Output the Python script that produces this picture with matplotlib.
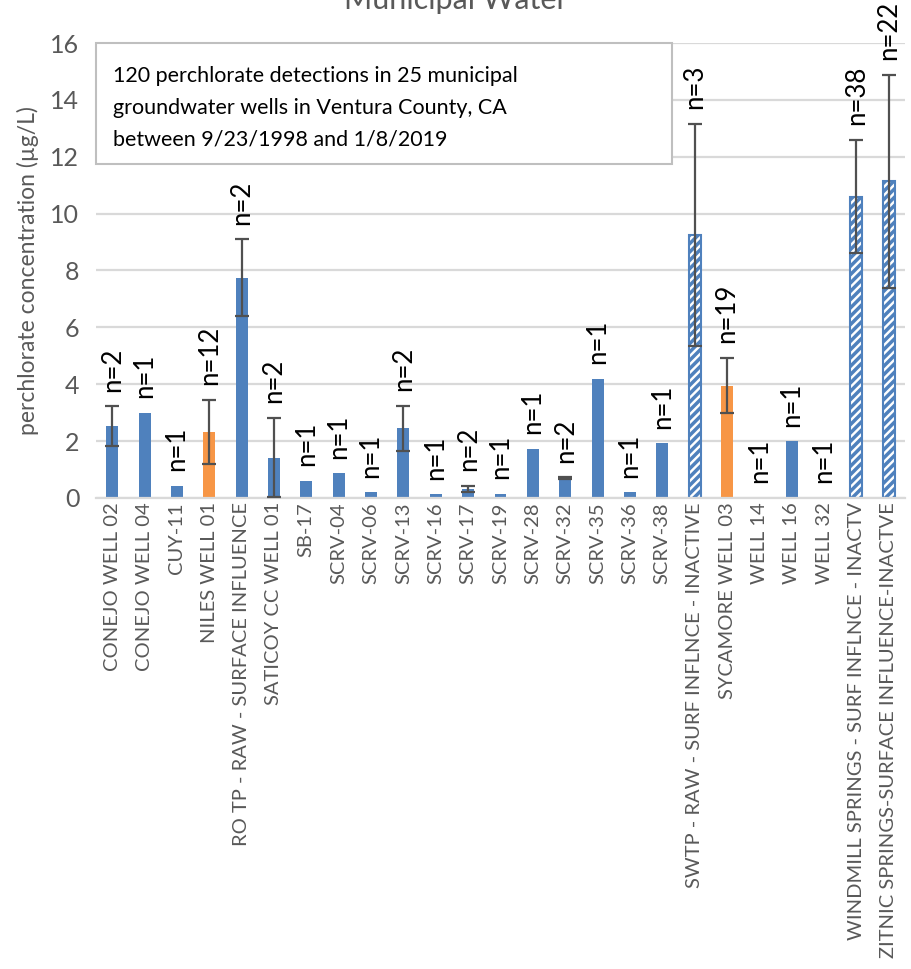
import numpy as np
import matplotlib
matplotlib.use("Agg")
import matplotlib.pyplot as plt
from matplotlib.patches import Rectangle

plt.rcParams['font.family'] = ['Lato', 'DejaVu Sans']
plt.rcParams['hatch.linewidth'] = 2.5

# --- data ---
wells = ["CONEJO WELL 02", "CONEJO WELL 04", "CUY-11", "NILES WELL 01",
         "RO TP - RAW - SURFACE INFLUENCE", "SATICOY CC WELL 01", "SB-17",
         "SCRV-04", "SCRV-06", "SCRV-13", "SCRV-16", "SCRV-17", "SCRV-19",
         "SCRV-28", "SCRV-32", "SCRV-35", "SCRV-36", "SCRV-38",
         "SWTP - RAW - SURF INFLNCE - INACTIVE", "SYCAMORE WELL 03",
         "WELL 14", "WELL 16", "WELL 32",
         "WINDMILL SPRINGS - SURF INFLNCE - INACTV",
         "ZITNIC SPRINGS-SURFACE INFLUENCE-INACTVE"]
mean_conc = [2.53, 3.0, 0.42, 2.32, 7.75, 1.42, 0.6, 0.87, 0.2, 2.45,
             0.13, 0.32, 0.15, 1.72, 0.7, 4.2, 0.2, 1.93, 9.25, 3.95,
             0.03, 2.0, 0.03, 10.6, 11.13]
std_conc = [0.7, 0, 0, 1.13, 1.35, 1.4, 0, 0, 0, 0.8,
            0, 0.11, 0, 0, 0.02, 0, 0, 0, 3.9, 0.97,
            0, 0, 0, 2.0, 3.75]
n_samples = [2, 1, 1, 12, 2, 2, 1, 1, 1, 2, 1, 2, 1, 1, 2, 1, 1, 1, 3, 19,
             1, 1, 1, 38, 22]
# style groups: 's' solid, 'o' orange, 'h' hatched (inactive / surface)
kind = ["s", "s", "s", "o", "s", "s", "s", "s", "s", "s", "s", "s", "s",
        "s", "s", "s", "s", "s", "h", "o", "s", "s", "s", "h", "h"]

blue = "#4f81bd"
orange = "#f79646"
grey = "#595959"

fig = plt.figure(figsize=(9.11, 9.69), dpi=100)
ax = fig.add_axes([0.1054, 0.4861, 0.888, 0.4695])

x = np.arange(len(wells))
for i in range(len(wells)):
    if kind[i] == "o":
        ax.bar(x[i], mean_conc[i], width=0.37, color=orange, zorder=2)
    elif kind[i] == "h":
        ax.bar(x[i], mean_conc[i], width=0.37, facecolor="white",
               edgecolor=blue, hatch="////", linewidth=1.5, zorder=2)
    else:
        ax.bar(x[i], mean_conc[i], width=0.37, color=blue, zorder=2)

err = np.array(std_conc)
has_err = err > 0
ax.errorbar(x[has_err], np.array(mean_conc)[has_err], yerr=err[has_err],
            fmt="none", ecolor="#505050", elinewidth=1.6, capsize=5,
            capthick=1.6, zorder=3)

for i in range(len(wells)):
    top = mean_conc[i] + std_conc[i]
    ax.annotate("n=%d" % n_samples[i], (x[i], top), xytext=(0, 10.5),
                textcoords="offset points", rotation=90, ha="center",
                va="bottom", fontsize=18.5, color="black")

ax.set_xlim(-0.5, len(wells) - 0.5)
ax.set_ylim(0, 16)
ax.set_yticks(range(0, 17, 2))
ax.set_xticks(x)
ax.set_xticklabels(wells, rotation=90, fontsize=14.5, color=grey)
ax.tick_params(axis="y", labelsize=18, labelcolor=grey, length=0, pad=12)
ax.tick_params(axis="x", length=0, pad=3)
ax.grid(axis="y", color="#d9d9d9", linewidth=1.6, zorder=0)
ax.set_axisbelow(True)
for s in ["top", "right", "left"]:
    ax.spines[s].set_visible(False)
ax.spines["bottom"].set_color("#d9d9d9")
ax.spines["bottom"].set_linewidth(1.6)
ax.set_ylabel("perchlorate concentration (µg/L)", fontsize=16.5, color=grey,
              labelpad=8)

# annotation box in the upper left
ax.add_patch(Rectangle((0, 0.734), 0.712, 0.266, transform=ax.transAxes,
                       facecolor="white", edgecolor="#bfbfbf",
                       linewidth=1.5, zorder=4, clip_on=False))
ax.text(0.021, 0.95,
        "120 perchlorate detections in 25 municipal\n"
        "groundwater wells in Ventura County, CA\n"
        "between 9/23/1998 and 1/8/2019",
        transform=ax.transAxes, ha="left", va="top", fontsize=15.5,
        linespacing=1.75, zorder=5)

fig.text(0.5, 1.0, "Municipal Water", ha="center", va="center",
         fontsize=22, color=grey)

fig.savefig("out.png", dpi=100)
